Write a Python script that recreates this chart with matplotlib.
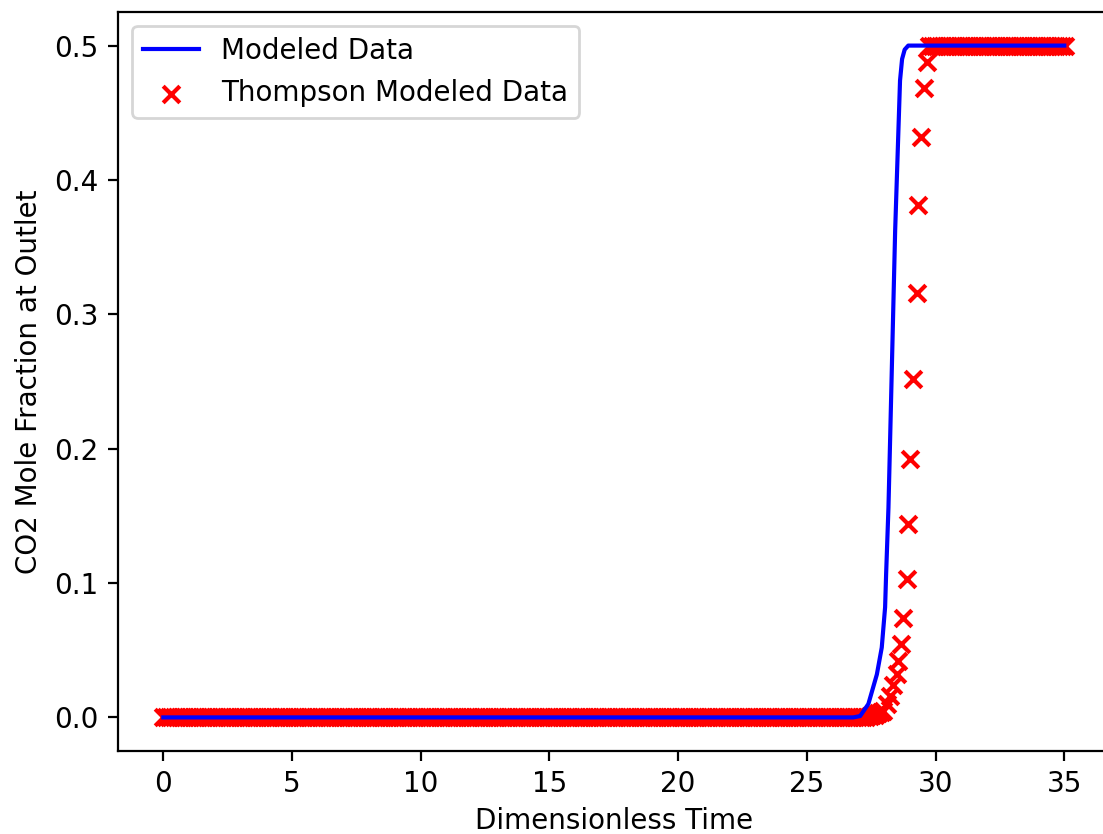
import numpy as np
import matplotlib
matplotlib.use("Agg")
import matplotlib.pyplot as plt

# modeled breakthrough curve
model_t = [0.0, 26.8, 27.07, 27.39, 27.72, 27.91, 28.04, 28.08, 28.17, 28.23,
           28.43, 28.62, 28.70, 28.80, 28.94, 35.0]
model_y = [0.0, 0.0, 0.001, 0.010, 0.032, 0.052, 0.082, 0.107, 0.156, 0.203,
           0.362, 0.474, 0.490, 0.497, 0.500, 0.500]

# Thompson data: flat plateaus sampled on a regular grid, transition read point by point
thompson_step = 0.105
low_t = np.arange(0.0, 27.4, thompson_step)
low_y = np.zeros_like(low_t)
knee_t = [27.45, 27.55, 27.66, 27.76, 27.87, 27.97, 28.10, 28.23, 28.36, 28.49,
          28.55, 28.65, 28.72, 28.88, 28.94, 29.01, 29.11, 29.27, 29.33, 29.42,
          29.55, 29.66]
knee_y = [0.001, 0.0015, 0.002, 0.003, 0.004, 0.005, 0.010, 0.016, 0.024, 0.032,
          0.042, 0.055, 0.074, 0.103, 0.144, 0.192, 0.252, 0.316, 0.381, 0.432,
          0.4685, 0.4876]
high_t = np.arange(29.76, 35.05, thompson_step)
high_y = np.full_like(high_t, 0.5)

thompson_t = np.concatenate([low_t, knee_t, high_t])
thompson_y = np.concatenate([low_y, knee_y, high_y])

dpi = 200
fig = plt.figure(figsize=(1103 / dpi, 834 / dpi), dpi=dpi)
# the right part of the axes runs past the edge of the picture
ax = fig.add_axes([118.3 / 1103, 83 / 834, 991 / 1103, 739 / 834])
ax.set_xlim(-1.75, 36.75)

ax.plot(model_t, model_y, color="blue", label="Modeled Data")
ax.scatter(thompson_t, thompson_y, marker="x", color="red", label="Thompson Modeled Data")

ax.set_xlabel("Dimensionless Time", labelpad=3)
ax.set_ylabel("CO2 Mole Fraction at Outlet")
ax.legend(loc="upper left")

fig.savefig("out.png", dpi=dpi)
